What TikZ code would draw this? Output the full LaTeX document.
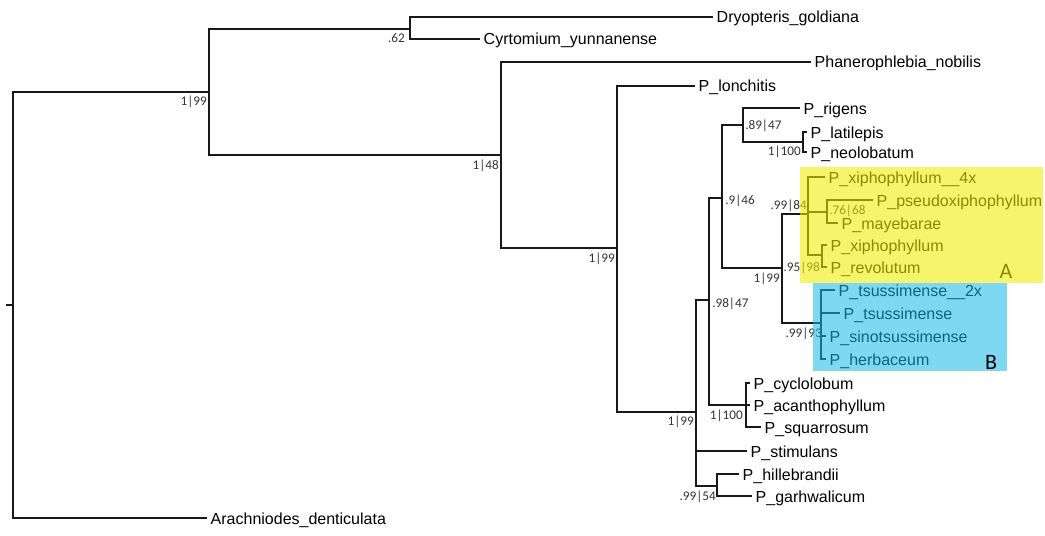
\documentclass[tikz,border=0pt]{standalone}
\usepackage{fontspec}
\setmainfont{Liberation Sans}
\newfontfamily\supfont{Carlito}
\definecolor{hlyellow}{RGB}{242,235,0}
\definecolor{hlblue}{RGB}{20,184,232}
\begin{document}
\begin{tikzpicture}[x=0.75pt,y=-0.75pt,
  br/.style={line width=1.4pt, line join=miter, draw=black!90},
  leaf/.style={anchor=west, inner xsep=2.6pt, inner ysep=0pt, font=\fontsize{12}{13}\selectfont, text height=0.9em, text depth=0pt},
  supl/.style={anchor=east, inner sep=0pt, font=\supfont\fontsize{9.9}{10}\selectfont, text height=0.63em, text depth=0pt, text=black!80},
  supr/.style={supl, anchor=west},
  cladeletter/.style={inner sep=0pt, font=\supfont\fontsize{16.5}{16.5}\selectfont},
]
\path[use as bounding box] (0,0) rectangle (1045,535);

% internal nodes (junction points)
\coordinate (rt) at (6,305);
\coordinate (r) at (13,305);
\coordinate (n1) at (209,92);
\coordinate (n2) at (410,29);
\coordinate (n3) at (501,155);
\coordinate (n4) at (617,248);
\coordinate (n5) at (696,412);
\coordinate (n6) at (709,300);
\coordinate (n7) at (722,198);
\coordinate (n8) at (743,125);
\coordinate (n9) at (803,142);
\coordinate (n10) at (782,268);
\coordinate (n11) at (808,214);
\coordinate (n12) at (827,212);
\coordinate (n13) at (822,255);
\coordinate (n14) at (821,323);
\coordinate (n15) at (746,405);
\coordinate (n16) at (717,486);

% leaves
\node[leaf] (dry) at (713,17) {Dryopteris\_goldiana};
\node[leaf] (cyr) at (480,39) {Cyrtomium\_yunnanense};
\node[leaf] (pha) at (811,62) {Phanerophlebia\_nobilis};
\node[leaf] (lon) at (695,86) {P\_lonchitis};
\node[leaf] (rig) at (800,108) {P\_rigens};
\node[leaf] (lat) at (807,132) {P\_latilepis};
\node[leaf] (neo) at (807,152) {P\_neolobatum};
\node[leaf] (x4x) at (825,177) {P\_xiphophyllum\_\_4x};
\node[leaf] (pse) at (873,200) {P\_pseudoxiphophyllum};
\node[leaf] (may) at (838,223) {P\_mayebarae};
\node[leaf] (xip) at (827,245) {P\_xiphophyllum};
\node[leaf] (rev) at (827,267) {P\_revolutum};
\node[leaf] (ts2) at (835,290) {P\_tsussimense\_\_2x};
\node[leaf] (tsu) at (840,313) {P\_tsussimense};
\node[leaf] (sin) at (826,336) {P\_sinotsussimense};
\node[leaf] (her) at (826,359) {P\_herbaceum};
\node[leaf] (cyc) at (750,383) {P\_cyclolobum};
\node[leaf] (aca) at (750,405) {P\_acanthophyllum};
\node[leaf] (squ) at (761,427) {P\_squarrosum};
\node[leaf] (sti) at (747,451) {P\_stimulans};
\node[leaf] (hil) at (739,474) {P\_hillebrandii};
\node[leaf] (gar) at (752,496) {P\_garhwalicum};
\node[leaf] (ara) at (207,518) {Arachniodes\_denticulata};

% branches
\draw[br] (rt) -- (r);
\draw[br] (r) |- (n1);
\draw[br] (r) |- (ara.west);
\draw[br] (n1) |- (n2);
\draw[br] (n1) |- (n3);
\draw[br] (n2) |- (dry.west);
\draw[br] (n2) |- (cyr.west);
\draw[br] (n3) |- (pha.west);
\draw[br] (n3) |- (n4);
\draw[br] (n4) |- (lon.west);
\draw[br] (n4) |- (n5);
\draw[br] (n5) |- (n6);
\draw[br] (n5) |- (sti.west);
\draw[br] (n5) |- (n16);
\draw[br] (n6) |- (n7);
\draw[br] (n6) |- (n15);
\draw[br] (n7) |- (n8);
\draw[br] (n7) |- (n10);
\draw[br] (n8) |- (rig.west);
\draw[br] (n8) |- (n9);
\draw[br] (n9) |- (lat.west);
\draw[br] (n9) |- (neo.west);
\draw[br] (n10) |- (n11);
\draw[br] (n10) |- (n14);
\draw[br] (n11) |- (x4x.west);
\draw[br] (n11) |- (n12);
\draw[br] (n11) |- (n13);
\draw[br] (n12) |- (pse.west);
\draw[br] (n12) |- (may.west);
\draw[br] (n13) |- (xip.west);
\draw[br] (n13) |- (rev.west);
\draw[br] (n14) |- (ts2.west);
\draw[br] (n14) |- (tsu.west);
\draw[br] (n14) |- (sin.west);
\draw[br] (n14) |- (her.west);
\draw[br] (n15) |- (cyc.west);
\draw[br] (n15) |- (aca.west);
\draw[br] (n15) |- (squ.west);
\draw[br] (n16) |- (hil.west);
\draw[br] (n16) |- (gar.west);

% support values
\node[supl] (s1) at (207,101) {1|99};
\node[supl] (s2) at (405,38) {.62};
\node[supl] (s3) at (499,165) {1|48};
\node[supl] (s4) at (615,258) {1|99};
\node[supl] (s5) at (694,421) {1|99};
\node[supr] (s6) at (712,303) {.98|47};
\node[supr] (s7) at (725,200) {.9|46};
\node[supr] (s8) at (745,125) {.89|47};
\node[supl] (s9) at (801,151) {1|100};
\node[supl] (s10) at (780,278) {1|99};
\node[supl] (s11) at (807,205) {.99|84};
\node[supr] (s12) at (829,210) {.76|68};
\node[supl] (s13) at (820,267) {.95|98};
\node[supl] (s14) at (822,333) {.99|93};
\node[supl] (s15) at (743,415) {1|100};
\node[supl] (s16) at (716,496) {.99|54};

% clade highlights
\node[cladeletter] (A) at (1006,271) {A};
\fill[hlyellow, fill opacity=0.58] (800,167) rectangle (1043,283);
\fill[hlblue, fill opacity=0.55] (813,283) rectangle (1007,371);
\node[cladeletter] (B) at (991,362) {B};
\end{tikzpicture}
\end{document}
